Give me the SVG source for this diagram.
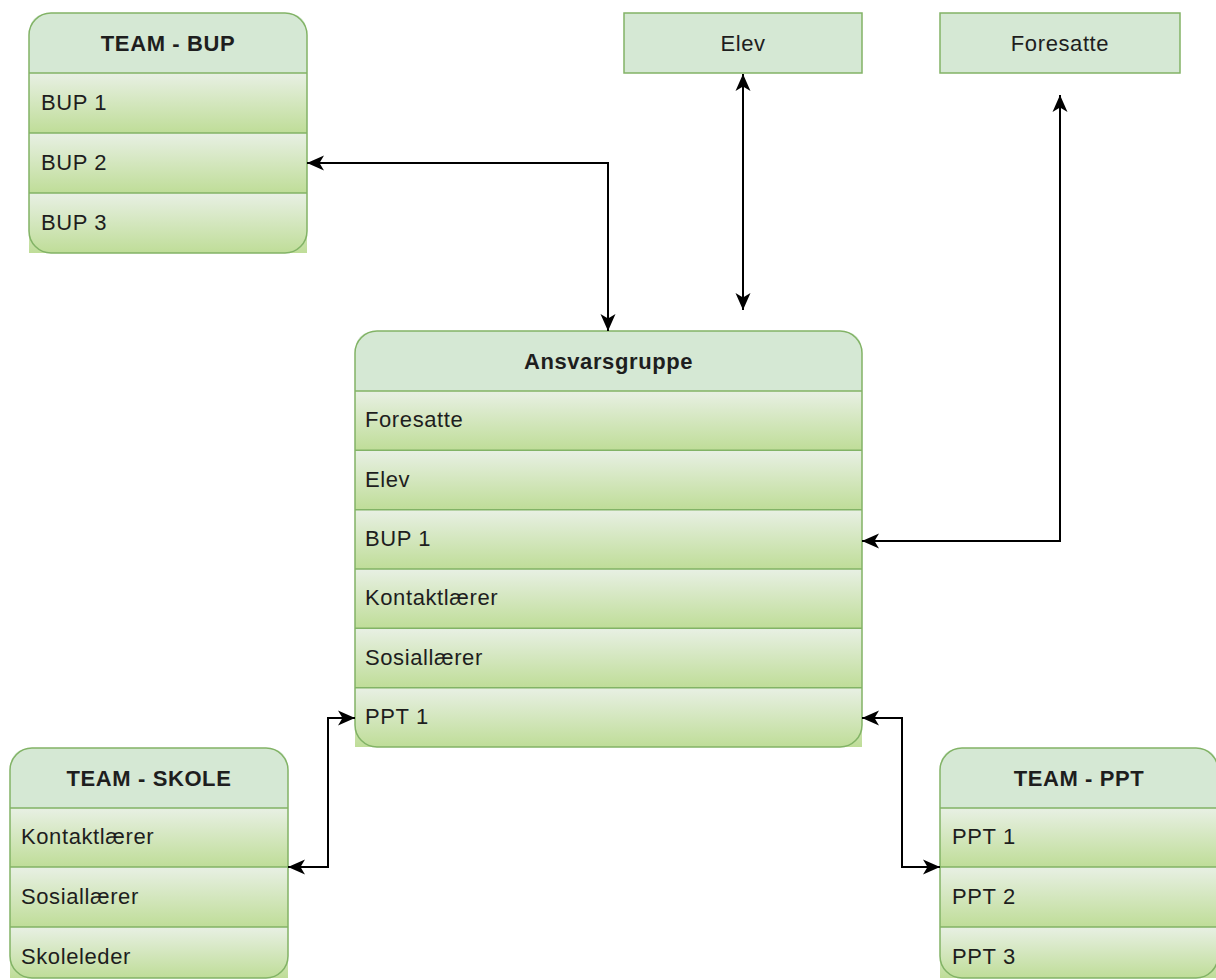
<svg xmlns="http://www.w3.org/2000/svg" width="1216" height="980" viewBox="0 0 1216 980">
<style>
.hdr{fill:#d5e8d4}
.row{fill:url(#rowGrad)}
.sep{stroke:#82b366;stroke-width:1.5;fill:none}
.out{fill:none;stroke:#82b366;stroke-width:1.5}
.box{fill:#d5e8d4;stroke:#82b366;stroke-width:1.5}
.t{font-family:"Liberation Sans",Arial,sans-serif;font-size:22px;letter-spacing:0.6px;fill:#1e1e1e}
.tb{font-family:"Liberation Sans",Arial,sans-serif;font-size:22px;letter-spacing:0.6px;font-weight:bold;fill:#1e1e1e;text-anchor:middle}
.tc{font-family:"Liberation Sans",Arial,sans-serif;font-size:22px;letter-spacing:0.6px;fill:#1e1e1e;text-anchor:middle}
.edge{fill:none;stroke:#000;stroke-width:2;marker-start:url(#arr);marker-end:url(#arr)}
</style>
<defs>
<linearGradient id="rowGrad" x1="0" y1="0" x2="0" y2="1">
<stop offset="0" stop-color="#e8f0e4"/>
<stop offset="1" stop-color="#bfdd98"/>
</linearGradient>
<marker id="arr" markerUnits="userSpaceOnUse" markerWidth="20" markerHeight="18" viewBox="0 0 20 18" refX="17" refY="9" orient="auto-start-reverse">
<path d="M0,1.5 L17,9 L0,16.5 L4.5,9 Z" fill="#000"/>
</marker>
</defs>
<rect width="1216" height="980" fill="#ffffff"/>

<g id="team-bup">
<path class="hdr" d="M29,73 V35 Q29,13 51,13 H285 Q307,13 307,35 V73 Z"/>
<rect class="row" x="29" y="73" width="278" height="60"/>
<rect class="row" x="29" y="133" width="278" height="60"/>
<rect class="row" x="29" y="193" width="278" height="60"/>
<path class="sep" d="M29,73 H307 M29,133 H307 M29,193 H307"/>
<rect class="out" x="29" y="13" width="278" height="240" rx="22"/>
<text class="tb" x="168" y="51">TEAM - BUP</text>
<text class="t" x="41" y="110">BUP 1</text>
<text class="t" x="41" y="170">BUP 2</text>
<text class="t" x="41" y="230">BUP 3</text>
</g>

<g id="elev">
<rect class="box" x="624" y="13" width="238" height="60"/>
<text class="tc" x="743" y="51">Elev</text>
</g>

<g id="foresatte">
<rect class="box" x="940" y="13" width="240" height="60"/>
<text class="tc" x="1060" y="51">Foresatte</text>
</g>

<g id="ansvarsgruppe">
<path class="hdr" d="M355,391 V353 Q355,331 377,331 H840 Q862,331 862,353 V391 Z"/>
<rect class="row" x="355" y="391" width="507" height="59.33"/>
<rect class="row" x="355" y="450.33" width="507" height="59.33"/>
<rect class="row" x="355" y="509.67" width="507" height="59.33"/>
<rect class="row" x="355" y="569" width="507" height="59.33"/>
<rect class="row" x="355" y="628.33" width="507" height="59.33"/>
<rect class="row" x="355" y="687.67" width="507" height="59.33"/>
<path class="sep" d="M355,391 H862 M355,450.33 H862 M355,509.67 H862 M355,569 H862 M355,628.33 H862 M355,687.67 H862"/>
<rect class="out" x="355" y="331" width="507" height="416" rx="22"/>
<text class="tb" x="608.5" y="369">Ansvarsgruppe</text>
<text class="t" x="365" y="427">Foresatte</text>
<text class="t" x="365" y="487">Elev</text>
<text class="t" x="365" y="546">BUP 1</text>
<text class="t" x="365" y="605">Kontaktlærer</text>
<text class="t" x="365" y="665">Sosiallærer</text>
<text class="t" x="365" y="724">PPT 1</text>
</g>

<g id="team-skole">
<path class="hdr" d="M10,808 V770 Q10,748 32,748 H266 Q288,748 288,770 V808 Z"/>
<rect class="row" x="10" y="808" width="278" height="59"/>
<rect class="row" x="10" y="867" width="278" height="60"/>
<rect class="row" x="10" y="927" width="278" height="51"/>
<path class="sep" d="M10,808 H288 M10,867 H288 M10,927 H288"/>
<rect class="out" x="10" y="748" width="278" height="230" rx="22"/>
<text class="tb" x="149" y="786">TEAM - SKOLE</text>
<text class="t" x="21" y="844">Kontaktlærer</text>
<text class="t" x="21" y="904">Sosiallærer</text>
<text class="t" x="21" y="964">Skoleleder</text>
</g>

<g id="team-ppt">
<path class="hdr" d="M940,808 V770 Q940,748 962,748 H1196 Q1218,748 1218,770 V808 Z"/>
<rect class="row" x="940" y="808" width="278" height="59"/>
<rect class="row" x="940" y="867" width="278" height="60"/>
<rect class="row" x="940" y="927" width="278" height="51"/>
<path class="sep" d="M940,808 H1218 M940,867 H1218 M940,927 H1218"/>
<rect class="out" x="940" y="748" width="278" height="230" rx="22"/>
<text class="tb" x="1079" y="786">TEAM - PPT</text>
<text class="t" x="952" y="844">PPT 1</text>
<text class="t" x="952" y="904">PPT 2</text>
<text class="t" x="952" y="964">PPT 3</text>
</g>

<g id="connectors">
<path class="edge" d="M307,163 H608 V331"/>
<path class="edge" d="M743,74 V310"/>
<path class="edge" d="M1060,95 V541 H862"/>
<path class="edge" d="M288,867 H328 V718 H355"/>
<path class="edge" d="M862,718 H902 V867 H940"/>
</g>
</svg>
